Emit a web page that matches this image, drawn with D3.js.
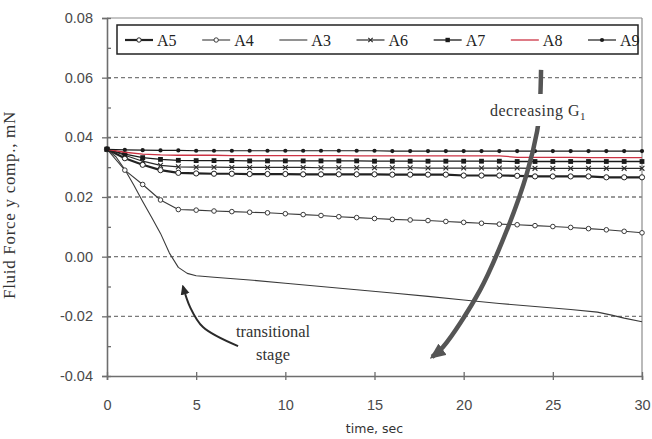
<!DOCTYPE html>
<html>
<head>
<meta charset="utf-8">
<script src="https://cdn.jsdelivr.net/npm/d3@7"></script>
<style>
  html, body { margin: 0; padding: 0; background: #fff; }
  svg { display: block; }
</style>
</head>
<body>
<svg id="chart" width="652" height="439"></svg>
<script>
// ---- data -------------------------------------------------------------
const time = [0,1,2,3,4,5,6,7,8,9,10,11,12,13,14,15,16,17,18,19,20,21,22,23,24,25,26,27,28,29,30];

const seriesNames = ["A5", "A4", "A3", "A6", "A7", "A8", "A9"];

const a5 = [0.0360,0.0330,0.0308,0.0290,0.0281,0.0279,0.0278,0.0278,0.0277,0.0277,0.0277,0.0276,0.0276,0.0276,0.0276,0.0276,
            0.0275,0.0275,0.0275,0.0275,0.0272,0.0272,0.0272,0.0271,0.0269,0.0269,0.0269,0.0269,0.0266,0.0266,0.0266];
const a4 = [0.0360,0.0290,0.0242,0.0190,0.0158,0.0156,0.0153,0.0151,0.0149,0.0147,0.0144,0.0141,0.0138,0.0134,0.0131,0.0128,
            0.0125,0.0123,0.0121,0.0118,0.0115,0.0112,0.0109,0.0107,0.0104,0.0101,0.0098,0.0094,0.0090,0.0085,0.0080];
const a6 = [0.0360,0.0340,0.0320,0.0306,0.0301,0.0300,0.0300,0.0299,0.0299,0.0299,0.0299,0.0299,0.0298,0.0298,0.0298,0.0298,
            0.0298,0.0298,0.0297,0.0297,0.0297,0.0297,0.0297,0.0297,0.0296,0.0296,0.0296,0.0296,0.0296,0.0296,0.0296];
const a7 = [0.0360,0.0344,0.0332,0.0326,0.0323,0.0322,0.0322,0.0322,0.0321,0.0321,0.0321,0.0321,0.0321,0.0321,0.0321,0.0320,
            0.0320,0.0320,0.0320,0.0320,0.0320,0.0320,0.0320,0.0319,0.0319,0.0319,0.0319,0.0319,0.0319,0.0319,0.0319];
const a8 = [0.0360,0.0350,0.0344,0.0341,0.0340,0.0340,0.0340,0.0339,0.0339,0.0339,0.0339,0.0339,0.0339,0.0339,0.0338,0.0338,
            0.0338,0.0338,0.0338,0.0338,0.0338,0.0338,0.0338,0.0333,0.0333,0.0333,0.0333,0.0332,0.0332,0.0332,0.0332];
const a9 = [0.0360,0.0358,0.0357,0.0356,0.0356,0.0355,0.0355,0.0355,0.0355,0.0355,0.0355,0.0355,0.0355,0.0355,0.0355,0.0355,
            0.0354,0.0354,0.0354,0.0354,0.0354,0.0354,0.0354,0.0354,0.0354,0.0354,0.0354,0.0354,0.0354,0.0354,0.0354];

// A3 is sampled more finely and drawn without markers
const a3Time   = [0, 0.5, 1, 1.5, 2, 2.5, 3, 3.5, 4, 4.5, 5, 6, 8, 10, 12, 14, 16, 18, 20, 22, 24, 26, 27.5, 28.3, 29, 30];
const a3Values = [0.0360, 0.0335, 0.0292, 0.0240, 0.0185, 0.0132, 0.0078, 0.0012, -0.0036, -0.0056, -0.0064, -0.0069,
                  -0.0078, -0.0089, -0.0100, -0.0111, -0.0122, -0.0133, -0.0145, -0.0157, -0.0167, -0.0177, -0.0186,
                  -0.0196, -0.0206, -0.0218];

const xTicks = [0, 5, 10, 15, 20, 25, 30];
const yTicks = [-0.04, -0.02, 0.00, 0.02, 0.04, 0.06, 0.08];
const yMinorTicks = [-0.03, -0.01, 0.01, 0.03, 0.05, 0.07];
const gridValues = [-0.02, 0.00, 0.02, 0.04, 0.06];

// ---- layout -----------------------------------------------------------
const svg = d3.select("#chart");
const plot = { left: 107, right: 642, top: 18, bottom: 376 };

const x = d3.scaleLinear().domain([0, 30]).range([plot.left, plot.right]);
const y = d3.scaleLinear().domain([-0.04, 0.08]).range([plot.bottom, plot.top]);

const tickFont = "'Liberation Sans', Arial, sans-serif";
const serifFont = "'Liberation Serif', 'Times New Roman', serif";

// dashed horizontal gridlines
svg.append("g")
  .selectAll("line")
  .data(gridValues)
  .join("line")
  .attr("x1", plot.left).attr("x2", plot.right)
  .attr("y1", d => y(d)).attr("y2", d => y(d))
  .attr("stroke", "#7a7a7a")
  .attr("stroke-width", 1.3)
  .attr("stroke-dasharray", "4,3");

// frame: top and right borders
svg.append("line")
  .attr("x1", plot.left).attr("x2", plot.right)
  .attr("y1", plot.top).attr("y2", plot.top)
  .attr("stroke", "#8c8c8c").attr("stroke-width", 1.2);
svg.append("line")
  .attr("x1", plot.right).attr("x2", plot.right)
  .attr("y1", plot.top).attr("y2", plot.bottom)
  .attr("stroke", "#8c8c8c").attr("stroke-width", 1.2);

// y axis with labels (outer part of the ticks); plain hyphen for negatives
svg.append("g")
  .attr("transform", `translate(${plot.left},0)`)
  .call(d3.axisLeft(y).tickValues(yTicks).tickFormat(d => d.toFixed(2)).tickSize(5).tickPadding(9));
// inner part of the major ticks plus minor ticks
svg.append("g")
  .attr("transform", `translate(${plot.left},0)`)
  .call(d3.axisRight(y).tickValues(yTicks.concat(yMinorTicks)).tickFormat("").tickSize(4))
  .call(g => g.select(".domain").remove());

// x axis with labels
svg.append("g")
  .attr("transform", `translate(0,${plot.bottom})`)
  .call(d3.axisBottom(x).tickValues(xTicks).tickFormat(d => String(d)).tickSize(4).tickPadding(20));
svg.append("g")
  .attr("transform", `translate(0,${plot.bottom})`)
  .call(d3.axisTop(x).tickValues(xTicks).tickFormat("").tickSize(4))
  .call(g => g.select(".domain").remove());

svg.selectAll(".domain").attr("stroke", "#6e6e6e").attr("stroke-width", 1.6);
svg.selectAll(".tick line").attr("stroke", "#6e6e6e").attr("stroke-width", 1.3);
svg.selectAll(".tick text")
  .attr("font-family", tickFont)
  .attr("font-size", 14.5)
  .attr("fill", "#4a4a4a");

// axis titles
svg.append("text")
  .attr("x", x(15)).attr("y", 433)
  .attr("text-anchor", "middle")
  .attr("font-family", "'DejaVu Sans', Verdana, sans-serif")
  .attr("font-size", 12.5)
  .attr("fill", "#333")
  .text("time, sec");

svg.append("text")
  .attr("transform", "translate(15,205) rotate(-90)")
  .attr("text-anchor", "middle")
  .attr("font-family", serifFont)
  .attr("font-size", 17)
  .attr("letter-spacing", 0.7)
  .attr("fill", "#333")
  .text("Fluid Force y comp., mN");

// ---- series -----------------------------------------------------------
const lineGen = d3.line().x(d => x(d[0])).y(d => y(d[1]));

const markedValues = { A5: a5, A4: a4, A6: a6, A7: a7, A8: a8, A9: a9 };
const styles = {
  A5: { stroke: "#222", width: 2.2, marker: "circle",  size: 2.6 },
  A4: { stroke: "#3a3a3a", width: 1.1, marker: "circle", size: 2.3 },
  A3: { stroke: "#3a3a3a", width: 1.1, marker: "none",  size: 0 },
  A6: { stroke: "#2a2a2a", width: 1.2, marker: "cross", size: 2.4 },
  A7: { stroke: "#1a1a1a", width: 1.3, marker: "square", size: 2.4 },
  A8: { stroke: "#cc3344", width: 1.3, marker: "none",  size: 0 },
  A9: { stroke: "#1a1a1a", width: 1.2, marker: "dot",   size: 2.1 }
};

function seriesPoints(name) {
  if (name === "A3") return a3Time.map((t, i) => [t, a3Values[i]]);
  return time.map((t, i) => [t, markedValues[name][i]]);
}

function drawMarker(g, kind, s, color) {
  if (kind === "circle") {
    g.append("circle").attr("r", s).attr("fill", "#fff").attr("stroke", color).attr("stroke-width", 1);
  } else if (kind === "square") {
    g.append("rect").attr("x", -s).attr("y", -s).attr("width", 2 * s).attr("height", 2 * s).attr("fill", color);
  } else if (kind === "dot") {
    g.append("circle").attr("r", s).attr("fill", color);
  } else if (kind === "cross") {
    g.append("path").attr("d", `M${-s},${-s}L${s},${s}M${-s},${s}L${s},${-s}`)
      .attr("stroke", color).attr("stroke-width", 1.1);
  }
}

// draw order: lower curves first, then the upper cluster
const drawOrder = ["A3", "A4", "A5", "A6", "A7", "A8", "A9"];
const seriesG = svg.append("g");
drawOrder.forEach(name => {
  const st = styles[name];
  const pts = seriesPoints(name);
  seriesG.append("path")
    .datum(pts)
    .attr("d", lineGen)
    .attr("fill", "none")
    .attr("stroke", st.stroke)
    .attr("stroke-width", st.width)
    .attr("stroke-linejoin", "round");
  if (st.marker !== "none") {
    seriesG.append("g").selectAll("g")
      .data(pts)
      .join("g")
      .attr("transform", d => `translate(${x(d[0])},${y(d[1])})`)
      .each(function () { drawMarker(d3.select(this), st.marker, st.size, st.stroke); });
  }
});

// ---- legend -----------------------------------------------------------
const legend = svg.append("g");
legend.append("rect")
  .attr("x", 117).attr("y", 25).attr("width", 521).attr("height", 29)
  .attr("fill", "#fff").attr("stroke", "#222").attr("stroke-width", 1.5);

const legendX = d3.scalePoint().domain(seriesNames).range([125, 588]);
seriesNames.forEach(name => {
  const st = styles[name];
  const x0 = legendX(name);
  const item = legend.append("g").attr("transform", `translate(${x0},40)`);
  item.append("line")
    .attr("x1", 0).attr("x2", 28).attr("y1", 0).attr("y2", 0)
    .attr("stroke", st.stroke).attr("stroke-width", st.width);
  if (st.marker !== "none") {
    const m = item.append("g").attr("transform", "translate(14,0)");
    drawMarker(m, st.marker, Math.min(st.size, 2.2), st.stroke);
  }
  item.append("text")
    .attr("x", 32).attr("y", 5.5)
    .attr("font-family", serifFont)
    .attr("font-size", 16)
    .attr("fill", "#222")
    .text(name);
});

// ---- annotations ------------------------------------------------------
const defs = svg.append("defs");
defs.append("marker")
  .attr("id", "bigHead")
  .attr("markerUnits", "userSpaceOnUse")
  .attr("viewBox", "0 -7 16 14")
  .attr("refX", 13).attr("refY", 0)
  .attr("markerWidth", 16).attr("markerHeight", 14)
  .attr("orient", "auto")
  .append("path").attr("d", "M0,-7L16,0L0,7Z").attr("fill", "#555");
defs.append("marker")
  .attr("id", "smallHead")
  .attr("markerUnits", "userSpaceOnUse")
  .attr("viewBox", "0 -5 10 10")
  .attr("refX", 8).attr("refY", 0)
  .attr("markerWidth", 10).attr("markerHeight", 10)
  .attr("orient", "auto")
  .append("path").attr("d", "M0,-4.5L10,0L0,4.5Z").attr("fill", "#2a2a2a");

const curveLine = d3.line().x(d => x(d[0])).y(d => y(d[1])).curve(d3.curveCatmullRom.alpha(0.5));

// big arrow across the upper cluster, pointing toward lower curves
const bigArrow = [[24.34, 0.0626], [24.25, 0.0480], [24.12, 0.0421], [23.55, 0.0280], [22.49, 0.0099],
                  [20.92, -0.0112], [18.84, -0.0303], [18.23, -0.0336]];
svg.append("path")
  .datum(bigArrow)
  .attr("d", curveLine)
  .attr("fill", "none")
  .attr("stroke", "#555")
  .attr("stroke-width", 4.5)
  .attr("marker-end", "url(#bigHead)");

// label sits on a white patch that interrupts the arrow
svg.append("rect")
  .attr("x", 484).attr("y", 94).attr("width", 108).attr("height", 32)
  .attr("fill", "#fff");
const dec = svg.append("text")
  .attr("x", 538).attr("y", 116)
  .attr("text-anchor", "middle")
  .attr("font-family", serifFont)
  .attr("font-size", 16)
  .attr("letter-spacing", 0.5)
  .attr("fill", "#333");
dec.append("tspan").text("decreasing G");
dec.append("tspan").attr("font-size", 11).attr("dy", 4).text("1");

// small arrow marking the transitional stage
const smallArrow = [[7.35, -0.0300], [5.38, -0.0236], [4.66, -0.0169], [4.26, -0.0100]];
svg.append("path")
  .datum(smallArrow)
  .attr("d", curveLine)
  .attr("fill", "none")
  .attr("stroke", "#2a2a2a")
  .attr("stroke-width", 2)
  .attr("marker-end", "url(#smallHead)");

const trans = svg.append("text")
  .attr("text-anchor", "middle")
  .attr("font-family", serifFont)
  .attr("font-size", 16.5)
  .attr("fill", "#333");
trans.append("tspan").attr("x", 273).attr("y", 337).text("transitional");
trans.append("tspan").attr("x", 273).attr("y", 360).text("stage");
</script>
</body>
</html>
